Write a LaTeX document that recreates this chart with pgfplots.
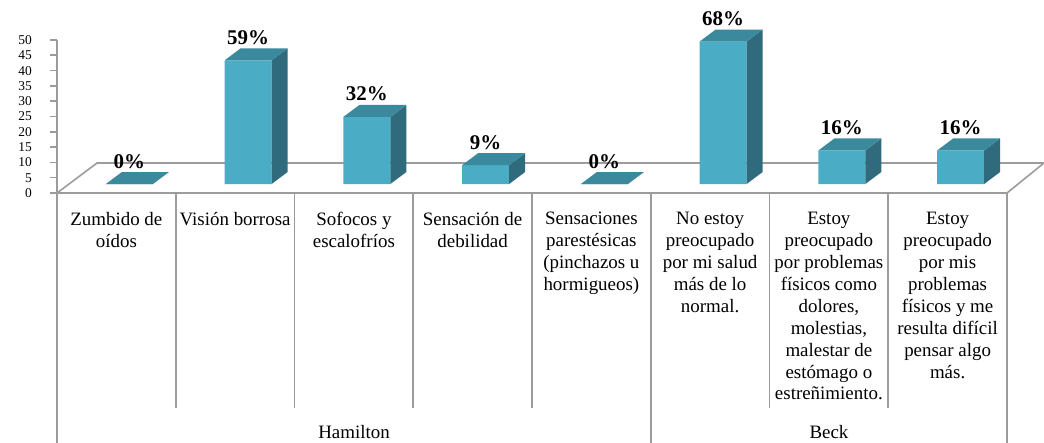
\documentclass[border=0pt]{standalone}
\usepackage{pgfplots}
\pgfplotsset{compat=1.18}
\usepackage{pgfplotstable}
\usepackage{fontspec}
\setmainfont{Liberation Serif}
\definecolor{barfront}{HTML}{4BACC6}
\definecolor{bartop}{HTML}{3A899D}
\definecolor{barside}{HTML}{2F6B7C}
\definecolor{linegray}{HTML}{9C9C9C}

\pgfplotstableread{
x v
0.5 0
1.5 59
2.5 32
3.5 9
4.5 0
5.5 68
6.5 16
7.5 16
}\datatable

\pgfdeclareplotmark{box3d}{%
  \pgfpointdiff{\pgfplotspointaxisxy{0}{0}}{\pgfplotspointaxisxy{0}{\ry}}%
  \pgfgetlastxy{\hx}{\hh}%
  \pgfpathmoveto{\pgfpoint{36.5bp}{0pt}}%
  \pgfpathlineto{\pgfpoint{52.5bp}{12bp}}%
  \pgfpathlineto{\pgfpointadd{\pgfpoint{52.5bp}{12bp}}{\pgfpoint{0pt}{-\hh}}}%
  \pgfpathlineto{\pgfpoint{36.5bp}{-\hh}}%
  \pgfpathclose
  \pgfsetfillcolor{barside}%
  \pgfusepath{fill}%
  \pgfpathmoveto{\pgfpoint{-10.5bp}{0pt}}%
  \pgfpathlineto{\pgfpoint{36.5bp}{0pt}}%
  \pgfpathlineto{\pgfpoint{52.5bp}{12bp}}%
  \pgfpathlineto{\pgfpoint{5.5bp}{12bp}}%
  \pgfpathclose
  \pgfsetfillcolor{bartop}%
  \pgfusepath{fill}%
}

\begin{document}
\begin{tikzpicture}
\begin{axis}[
  at={(0,0)}, anchor=south west,
  scale only axis, width=950bp, height=153bp,
  disabledatascaling,
  xmin=0, xmax=8, ymin=-4.296, ymax=68.735,
  clip=false,
  axis line style={draw=none},
  ytick=\empty,
  xtick={0.5,1.5,...,7.5},
  xticklabels={{Zumbido de\\oídos},{Visión borrosa},{Sofocos y\\escalofríos},{Sensación de\\debilidad},{Sensaciones\\parestésicas\\(pinchazos u\\hormigueos)},{No estoy\\preocupado\\por mi salud\\más de lo\\normal.},{Estoy\\preocupado\\por problemas\\físicos como\\dolores,\\molestias,\\malestar de\\estómago o\\estreñimiento.},{Estoy\\preocupado\\por mis\\problemas\\físicos y me\\resulta difícil\\pensar algo\\más.}},
  xtick pos=bottom,
  tick align=outside,
  major tick length=0pt,
  minor xtick={0,1,...,8},
  minor tick length=215bp,
  extra x ticks={0,5,8},
  extra x tick labels={},
  extra x tick style={major tick length=252bp},
  tick style={draw=linegray, line width=1.6bp},
  xticklabel style={font=\fontsize{19}{22}\selectfont, align=center, anchor=north, inner sep=0pt, yshift=-19bp},
  /pgf/number format/assume math mode=true,
]
\draw[linegray, line width=1.6bp] (axis cs:0,-4.296) -- (axis cs:8,-4.296) -- (axis cs:8.3116,10.02) -- (axis cs:0.3368,10.02) -- cycle;
\addplot[ybar, bar width=47bp, bar shift=13bp, fill=barfront, draw=none] table[x=x,y=v]{\datatable};
\addplot[only marks, mark=box3d, visualization depends on={rawy \as \ry},
  point meta=\thisrow{v},
  nodes near coords={\pgfmathprintnumber[fixed,precision=0]{\pgfplotspointmeta}\%},
  every node near coord/.append style={anchor=base, inner sep=0pt, xshift=13bp, yshift=16bp, font=\fontsize{21}{24}\selectfont\bfseries, text=black}]
  table[x=x,y=v]{\datatable};
\end{axis}
\begin{axis}[
  at={(0,0)}, anchor=south west,
  scale only axis, width=950bp, height=153bp,
  xmin=0, xmax=8, ymin=0, ymax=50,
  axis x line=none, axis y line*=left,
  ytick={0,5,...,50},
  tick align=outside, major tick length=7bp,
  y axis line style={draw=linegray, line width=1.6bp},
  ytick style={draw=linegray, line width=1.6bp},
  yticklabel style={font=\fontsize{13.5}{15}\selectfont, inner sep=0pt, xshift=-18bp},
  /pgf/number format/assume math mode=true,
]
\end{axis}
\node[anchor=base, font=\fontsize{19}{22}\selectfont] at (297bp,-245bp) {Hamilton};
\node[anchor=base, font=\fontsize{19}{22}\selectfont] at (772bp,-245bp) {Beck};
\pgfresetboundingbox
\path (-57bp,-250bp) rectangle (987bp,193bp);
\end{tikzpicture}
\end{document}
